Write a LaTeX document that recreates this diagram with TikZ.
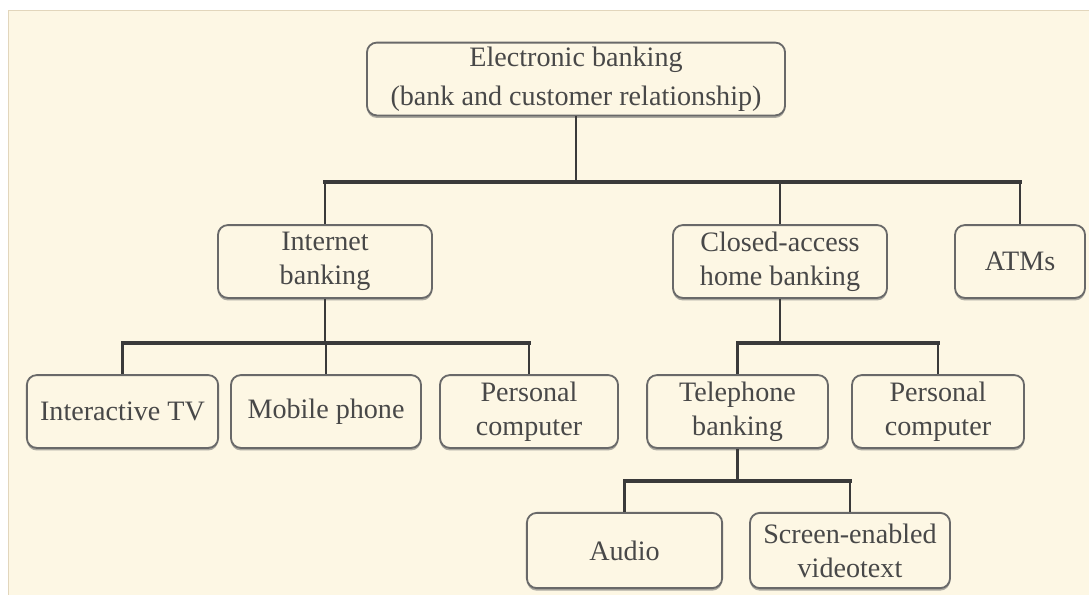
\documentclass[tikz,border=0pt]{standalone}
\usepackage{fontspec}
\setmainfont{Liberation Serif}
\usetikzlibrary{shadows,calc}
\definecolor{bkcream}{RGB}{253,247,228}
\definecolor{bktan}{RGB}{226,214,188}
\definecolor{bkline}{RGB}{58,58,58}
\definecolor{bkedge}{RGB}{105,105,105}
\definecolor{bktext}{RGB}{72,72,72}
\tikzset{
  bankbox/.style={
    rectangle, rounded corners=7pt, draw=bkedge, line width=1.3pt,
    fill=bkcream, align=center, text=bktext, inner sep=2pt,
    font=\fontsize{20}{24}\selectfont,
    minimum height=1.82cm,
    drop shadow={shadow xshift=0pt, shadow yshift=-1.8pt,
                 fill=bkedge, opacity=0.55}
  },
  linkbar/.style={draw=bkline, line width=2.6pt, line cap=rect},
  linkdrop/.style={draw=bkline, line width=2.1pt}
}

\begin{document}
\begin{tikzpicture}[x=0.025cm, y=-0.025cm]
  \useasboundingbox (0,0) rectangle (1089,594);
  \fill[white] (0,0) rectangle (1089,594);
  \filldraw[fill=bkcream, draw=bktan, line width=0.6pt] (8,10) rectangle (1100,610);

  % top level
  \node[bankbox, minimum width=10.45cm, font=\fontsize{20}{28}\selectfont] (root) at (576,79)
    {Electronic banking\\(bank and customer relationship)};

  % second level
  \node[bankbox, minimum width=5.35cm] (inet)   at (325,261.5)  {Internet\\banking};
  \node[bankbox, minimum width=5.35cm] (closed) at (780,261.5)  {Closed-access\\home banking};
  \node[bankbox, minimum width=3.25cm] (atm)    at (1020,261.5) {ATMs};

  % third level
  \node[bankbox, minimum width=4.78cm] (itv)  at (122.5,411.5) {Interactive TV};
  \node[bankbox, minimum width=4.75cm] (mob)  at (326,411.5)   {Mobile phone};
  \node[bankbox, minimum width=4.45cm] (pcin) at (529,411.5)   {Personal\\computer};
  \node[bankbox, minimum width=4.52cm] (tel)  at (737.5,411.5) {Telephone\\banking};
  \node[bankbox, minimum width=4.3cm]  (pccl) at (938,411.5)   {Personal\\computer};

  % fourth level
  \node[bankbox, minimum width=4.88cm, minimum height=1.88cm] (audio) at (624.5,550.5) {Audio};
  \node[bankbox, minimum width=5cm, minimum height=1.88cm]    (vtext) at (850,550.5)   {Screen-enabled\\videotext};

  % junctions
  \coordinate (j0) at (576,182);
  \coordinate (j1) at (325,343);
  \coordinate (j2) at (780,343);
  \coordinate (j3) at (737.5,481);

  % connectors
  \draw[linkdrop] (root.south) -- (j0);
  \draw[linkbar, line width=3.2pt] (inet.north |- j0) -- (atm.north |- j0);
  \foreach \n in {inet,closed,atm}
    \draw[linkdrop] (\n.north |- j0) -- (\n.north);

  \draw[linkdrop] (inet.south) -- (j1);
  \draw[linkbar] (itv.north |- j1) -- (pcin.north |- j1);
  \foreach \n in {itv,mob,pcin}
    \draw[linkdrop] (\n.north |- j1) -- (\n.north);

  \draw[linkdrop] (closed.south) -- (j2);
  \draw[linkbar] (tel.north |- j2) -- (pccl.north |- j2);
  \foreach \n in {tel,pccl}
    \draw[linkdrop] (\n.north |- j2) -- (\n.north);

  \draw[linkdrop] (tel.south) -- (j3);
  \draw[linkbar] (audio.north |- j3) -- (vtext.north |- j3);
  \foreach \n in {audio,vtext}
    \draw[linkdrop] (\n.north |- j3) -- (\n.north);
\end{tikzpicture}
\end{document}
